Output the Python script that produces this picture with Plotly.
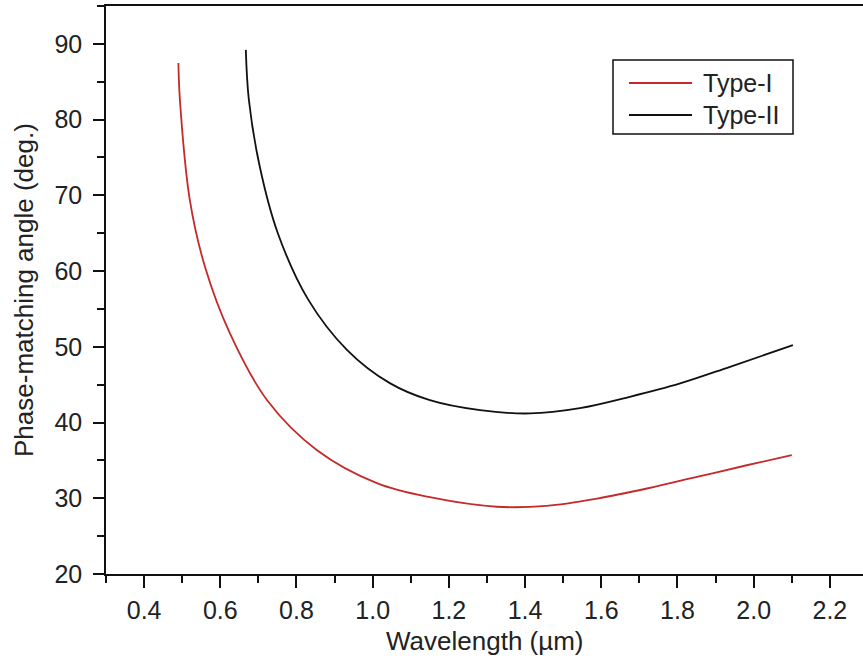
import plotly.graph_objects as go

# Type-I phase-matching curve
type1_wavelength = [0.490, 0.494, 0.520, 0.560, 0.625, 0.723, 0.854, 1.011, 1.150, 1.326,
                    1.457, 1.589, 1.720, 1.851, 1.982, 2.100]
type1_angle = [87.47, 82.6, 69.4, 60.53, 51.81, 42.95, 36.35, 32.0, 30.14, 28.88,
               29.0, 29.96, 31.29, 32.82, 34.36, 35.69]

# Type-II phase-matching curve
type2_wavelength = [0.667, 0.675, 0.704, 0.751, 0.830, 0.933, 1.045, 1.150, 1.282, 1.413,
                    1.544, 1.675, 1.807, 1.938, 2.103]
type2_angle = [89.21, 82.6, 73.7, 65.0, 56.3, 49.57, 45.2, 42.95, 41.63, 41.2,
               41.9, 43.4, 45.16, 47.36, 50.22]

series_names = ["Type-I", "Type-II"]
series_colors = ["#c42a2a", "#111111"]

x_ticks = [0.4, 0.6, 0.8, 1.0, 1.2, 1.4, 1.6, 1.8, 2.0, 2.2]
y_ticks = [20, 30, 40, 50, 60, 70, 80, 90]

FONT = "Liberation Sans, Arial, sans-serif"
TXT = "#222222"
AX = "#111111"

W, H = 863, 661
L, R, T, B = 106, 0, 6, 87
PW, PH = W - L - R, H - T - B


def px(x):
    return (x - L) / PW


def py(y):
    return (H - B - y) / PH


fig = go.Figure()
for xs, ys, name, col in [(type1_wavelength, type1_angle, series_names[0], series_colors[0]),
                          (type2_wavelength, type2_angle, series_names[1], series_colors[1])]:
    fig.add_trace(go.Scatter(x=xs, y=ys, mode="lines", name=name, showlegend=False,
                             line=dict(color=col, width=1.8, shape="spline", smoothing=1.0)))

shapes = []
annotations = []
# legend box drawn by hand
shapes.append(dict(type="rect", xref="paper", yref="paper", x0=px(613), x1=px(793),
                   y0=py(134), y1=py(60), line=dict(color=AX, width=1.5), fillcolor="white", layer="above"))
for i, (name, col) in enumerate(zip(series_names, series_colors)):
    yy = 83 + 32 * i
    shapes.append(dict(type="line", xref="paper", yref="paper", x0=px(629), x1=px(692),
                       y0=py(yy), y1=py(yy), line=dict(color=col, width=1.8), layer="above"))
    annotations.append(dict(text=name, xref="paper", yref="paper", x=px(701), y=py(yy),
                            xanchor="left", yanchor="middle", showarrow=False,
                            font=dict(family=FONT, size=25, color=TXT)))

annotations.append(dict(text="Wavelength (µm)", xref="paper", yref="paper", x=px(485), y=py(641),
                        xanchor="center", yanchor="middle", showarrow=False,
                        font=dict(family=FONT, size=26, color=TXT)))
annotations.append(dict(text="Phase-matching angle (deg.)", xref="paper", yref="paper", x=px(24), y=py(290),
                        xanchor="center", yanchor="middle", showarrow=False, textangle=-90,
                        font=dict(family=FONT, size=26, color=TXT)))

fig.update_layout(
    width=W, height=H,
    margin=dict(l=L, r=R, t=T, b=B),
    paper_bgcolor="white", plot_bgcolor="white",
    font=dict(family=FONT, size=25, color=TXT),
    showlegend=False,
    shapes=shapes, annotations=annotations,
)
fig.update_xaxes(
    range=[0.3, 2.287], tickvals=x_ticks, ticktext=[f"{v:.1f}" for v in x_ticks],
    ticks="outside", ticklen=12, tickwidth=1.5, tickcolor=AX,
    showline=True, linecolor=AX, linewidth=1.5, mirror=True,
    showgrid=False, zeroline=False, ticklabelstandoff=1, automargin=False,
    minor=dict(dtick=0.1, tick0=0.3, ticks="outside", ticklen=7, tickwidth=1.5, tickcolor=AX),
)
fig.update_yaxes(
    range=[20, 95], tickvals=y_ticks,
    ticks="outside", ticklen=11, tickwidth=1.5, tickcolor=AX,
    showline=True, linecolor=AX, linewidth=1.5, mirror=False,
    showgrid=False, zeroline=False, ticklabelstandoff=6, automargin=False,
    minor=dict(dtick=5, tick0=20, ticks="outside", ticklen=7, tickwidth=1.5, tickcolor=AX),
)

fig.write_html("out.html", config={"displayModeBar": False},
               post_script="document.body.style.margin='0';document.body.style.overflow='hidden';")
